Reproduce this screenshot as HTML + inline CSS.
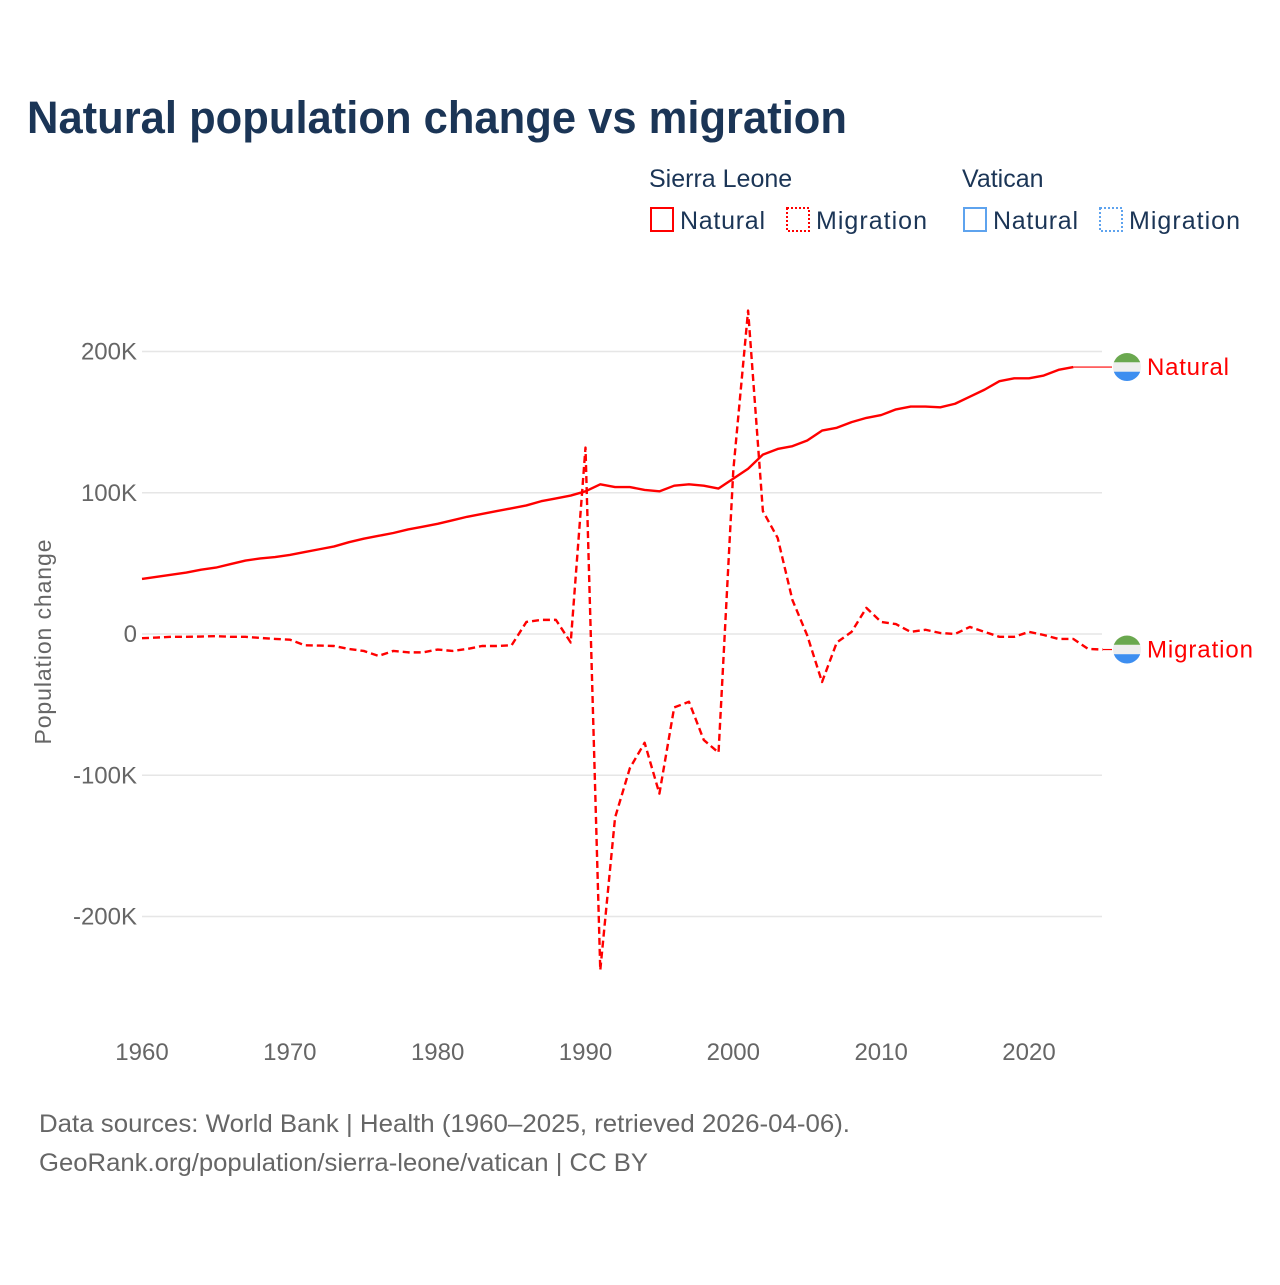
<!DOCTYPE html>
<html><head><meta charset="utf-8">
<style>
body{margin:0;background:#fff;font-family:"Liberation Sans",sans-serif;}
#wrap{position:relative;width:1280px;height:1280px;}
</style></head>
<body>
<div id="wrap">
<svg id="chart" width="1280" height="1280" xmlns="http://www.w3.org/2000/svg">
<text x="27" y="133" font-size="45" font-weight="bold" fill="#1b3556" textLength="820" lengthAdjust="spacingAndGlyphs">Natural population change vs migration</text>
<g font-size="25" fill="#1b3556">
<text x="649" y="187">Sierra Leone</text>
<text x="962" y="187">Vatican</text>
<g><rect x="651" y="208" width="22" height="23" fill="none" stroke="#ff0000" stroke-width="2"/><text x="680" y="229" textLength="85">Natural</text></g>
<g><rect x="787" y="208" width="22" height="23" fill="none" stroke="#ff0000" stroke-width="2" stroke-dasharray="2,2"/><text x="816" y="229" textLength="111">Migration</text></g>
<g><rect x="964" y="208" width="22" height="23" fill="none" stroke="#5ea3ee" stroke-width="2"/><text x="993" y="229" textLength="85">Natural</text></g>
<g><rect x="1100" y="208" width="22" height="23" fill="none" stroke="#5ea3ee" stroke-width="2" stroke-dasharray="2,2"/><text x="1129" y="229" textLength="111">Migration</text></g>
</g>
<g id="grid"></g>
<g id="yticks"></g>
<g id="xticks"></g>
<text transform="translate(51,642) rotate(-90)" text-anchor="middle" font-size="23" fill="#666" textLength="205">Population change</text>
<g id="series"></g>
<text x="39" y="1132" font-size="25" fill="#666" textLength="811" lengthAdjust="spacingAndGlyphs">Data sources: World Bank | Health (1960–2025, retrieved 2026-04-06).</text>
<text x="39" y="1171" font-size="25" fill="#666" textLength="609" lengthAdjust="spacingAndGlyphs">GeoRank.org/population/sierra-leone/vatican | CC BY</text>
</svg>
</div>
<script>
const years = [];
for (let y = 1960; y <= 2025; y++) years.push(y);
const naturalValues = [39,40.5,42,43.5,45.5,47,49.5,52,53.5,54.5,56,58,60,62,65,67.5,69.5,71.5,74,76,78,80.5,83,85,87,89,91,94,96,98,101,106,104,104,102,101,105,106,105,103,110,117,127,131,133,137,144,146,150,153,155,159,161,161,160.5,163,168,173,179,181,181,183,187,189];
const migrationValues = [-3,-2.5,-2,-2,-1.8,-1.5,-2,-2,-2.8,-3.5,-4,-8,-8.2,-8.5,-10.6,-12,-15.5,-12,-13,-13,-11,-12,-10.6,-8.5,-8.5,-8,8.5,10,10,-6,132,-238,-130,-95,-77,-113,-52,-48,-75,-84,116,229,87,68,24,-1,-34,-6,1.5,18.5,8.5,7,1.5,3,0.7,0,5,1.5,-2,-2,1.5,-0.7,-3.5,-3.5,-10.6,-11];
const yTicks = [200,100,0,-100,-200];
const yTickLabels = ["200K","100K","0","-100K","-200K"];
const xTicks = [1960,1970,1980,1990,2000,2010,2020];

const NS = "http://www.w3.org/2000/svg";
function xs(yr){ return 142 + (yr - 1960) * 14.783; }
function ys(v){ return 634 - v * 1.4125; }
function mk(tag, attrs, parent){
  const e = document.createElementNS(NS, tag);
  for (const k in attrs) e.setAttribute(k, attrs[k]);
  parent.appendChild(e); return e;
}
const grid = document.getElementById('grid');
const yt = document.getElementById('yticks');
yTicks.forEach((t,i)=>{
  const l = mk('line',{x1:142,x2:1102,y1:ys(t),y2:ys(t),stroke:'#e6e6e6','stroke-width':1.5},grid);
  
  
  const tx = mk('text',{x:137,y:ys(t)+8,'text-anchor':'end','font-size':24,fill:'#666'},yt);
  tx.textContent = yTickLabels[i];
  
  
});
const xt = document.getElementById('xticks');
xTicks.forEach(t=>{
  const tx = mk('text',{x:xs(t),y:1060,'text-anchor':'middle','font-size':24,fill:'#666'},xt);
  tx.textContent = t;
  
  
});
const s = document.getElementById('series');
const natPts = naturalValues.map((v,i)=>xs(years[i])+','+ys(v)).join(' ');
const nat = mk('polyline',{points:natPts,fill:'none',stroke:'#ff0000','stroke-width':2.4,'stroke-linejoin':'round'},s);


const natLast = naturalValues[naturalValues.length-1];
const natConn = mk('line',{x1:xs(years[naturalValues.length-1]),x2:1112,y1:ys(natLast),y2:ys(natLast),stroke:'#ff0000','stroke-width':1.2},s);


const migPts = migrationValues.map((v,i)=>xs(years[i])+','+ys(v)).join(' ');
const mig = mk('polyline',{points:migPts,fill:'none',stroke:'#ff0000','stroke-width':2.4,'stroke-dasharray':'7,4','stroke-linejoin':'round'},s);


const migLast = migrationValues[migrationValues.length-1];
const migConn = mk('line',{x1:xs(2025),x2:1112,y1:ys(migLast),y2:ys(migLast),stroke:'#ff0000','stroke-width':1.2},s);



function flag(cy, name, label, w){
  const g = mk('g',{},s);
  
  
  const cx = 1127, r = 14;
  const cp = mk('clipPath',{id:'c'+name},g);
  mk('circle',{cx:cx,cy:cy,r:r},cp);
  const gg = mk('g',{'clip-path':'url(#c'+name+')'},g);
  mk('rect',{x:cx-r,y:cy-r,width:2*r,height:r*2/3,fill:'#6aa84f'},gg);
  mk('rect',{x:cx-r,y:cy-r/3,width:2*r,height:r*2/3,fill:'#eeeeee'},gg);
  mk('rect',{x:cx-r,y:cy+r/3,width:2*r,height:r*2/3,fill:'#3d8ef0'},gg);
  const t = mk('text',{x:1147,y:cy+8,'font-size':24,fill:'#ff0000',textLength:w},g);
  t.textContent = label;
}
flag(ys(natLast),'label-natural','Natural',82);
flag(ys(migLast),'label-migration','Migration',106);
</script>
</body></html>
